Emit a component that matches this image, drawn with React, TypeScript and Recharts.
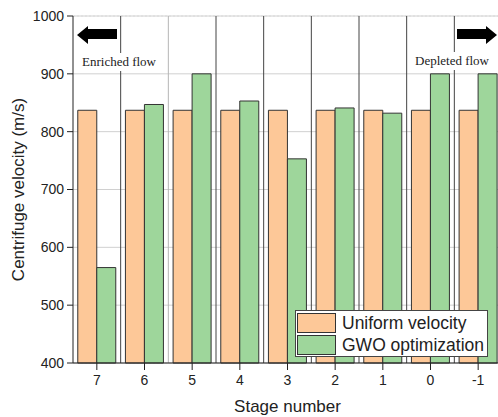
import React from "react";
import {
  BarChart,
  Bar,
  XAxis,
  YAxis,
  CartesianGrid,
  ReferenceLine,
  Label,
} from "recharts";

// stage numbers along the x axis (enriched side on the left)
const stages = ["7", "6", "5", "4", "3", "2", "1", "0", "-1"];
const uniformVelocity = [837, 837, 837, 837, 837, 837, 837, 837, 837];
const gwoVelocity = [565, 847, 900, 853, 753, 841, 832, 900, 900];
const majorTicks = [400, 500, 600, 700, 800, 900, 1000];
const minorTicks = [450, 550, 650, 750, 850, 950];

const data = stages.map((stage, i) => ({
  stage,
  uniform: uniformVelocity[i],
  gwo: gwoVelocity[i],
}));

const ORANGE = "#FDC898";
const GREEN = "#9ED69B";
const DARK = "#222";
const blank = () => "";

const Arrow = ({ left, flip }: { left: number; flip?: boolean }) => (
  <svg
    width={40}
    height={18}
    style={{ position: "absolute", left, top: 26, transform: flip ? "scaleX(-1)" : undefined }}
  >
    <polygon points="0,9 11,0 11,3 40,3 40,13 11,13 11,18" fill="#000" />
  </svg>
);

const App: React.FC = () => {
  return (
    <div
      style={{
        position: "absolute",
        left: 0,
        top: 0,
        width: 498,
        height: 417,
        overflow: "hidden",
        background: "#fff",
        fontFamily: "'Liberation Sans', Arial, sans-serif",
      }}
    >
      <BarChart
        width={510}
        height={417}
        data={data}
        margin={{ top: 16, right: 8, left: 0, bottom: 24 }}
        barCategoryGap="10%"
        barGap={0}
      >
        <CartesianGrid xAxisId="bottom" yAxisId="minor" vertical={false} stroke="#e2e2e2" strokeDasharray="2 2" />
        <CartesianGrid xAxisId="bottom" yAxisId="main" vertical={false} stroke="#d0d0d0" />
        <XAxis
          xAxisId="bottom"
          dataKey="stage"
          tickSize={7}
          tickMargin={5}
          tick={{ fontSize: 14, fill: DARK }}
          axisLine={{ stroke: DARK }}
          tickLine={{ stroke: DARK }}
        >
          <Label value="Stage number" position="bottom" offset={7} style={{ fontSize: 17, fill: DARK }} />
        </XAxis>
        <XAxis
          xAxisId="top"
          orientation="top"
          dataKey="stage"
          height={0}
          mirror
          tickSize={7}
          tickFormatter={blank}
          axisLine={{ stroke: DARK }}
          tickLine={{ stroke: DARK }}
        />
        <YAxis
          yAxisId="minor"
          width={0}
          mirror
          domain={[400, 1000]}
          ticks={minorTicks}
          tickSize={4}
          tickFormatter={blank}
          axisLine={false}
          tickLine={{ stroke: DARK }}
        />
        <YAxis
          yAxisId="main"
          width={73}
          domain={[400, 1000]}
          ticks={majorTicks}
          tickSize={6}
          tickMargin={3}
          tick={{ fontSize: 14, fill: DARK }}
          axisLine={{ stroke: DARK }}
          tickLine={{ stroke: DARK }}
        >
          <Label
            value="Centrifuge velocity (m/s)"
            angle={-90}
            position="insideLeft"
            offset={18}
            style={{ fontSize: 17, fill: DARK, textAnchor: "middle" }}
          />
        </YAxis>
        <YAxis
          yAxisId="right"
          orientation="right"
          width={0}
          mirror
          domain={[400, 1000]}
          ticks={majorTicks}
          tickSize={6}
          tickFormatter={blank}
          axisLine={{ stroke: DARK }}
          tickLine={{ stroke: DARK }}
        />
        {stages.slice(1).map((s) => (
          <ReferenceLine
            key={s}
            xAxisId="bottom"
            yAxisId="main"
            x={s}
            position="start"
            stroke={s === "5" ? "#b5b5b5" : "#444"}
          />
        ))}
        <Bar
          xAxisId="bottom"
          yAxisId="main"
          dataKey="uniform"
          name="Uniform velocity"
          fill={ORANGE}
          stroke="#333"
          strokeWidth={1}
          isAnimationActive={false}
        />
        <Bar
          xAxisId="bottom"
          yAxisId="main"
          dataKey="gwo"
          name="GWO optimization"
          fill={GREEN}
          stroke="#333"
          strokeWidth={1}
          isAnimationActive={false}
        />
      </BarChart>

      {/* flow direction notes */}
      <Arrow left={77} />
      <Arrow left={457} flip />
      <div
        style={{
          position: "absolute",
          left: 80,
          top: 53,
          padding: "0 2px",
          background: "#fff",
          fontFamily: "'Liberation Serif', 'Times New Roman', serif",
          fontSize: 13,
          color: "#222",
          lineHeight: "18px",
        }}
      >
        Enriched flow
      </div>
      <div
        style={{
          position: "absolute",
          left: 413,
          top: 52,
          padding: "0 2px",
          background: "#fff",
          fontFamily: "'Liberation Serif', 'Times New Roman', serif",
          fontSize: 13,
          color: "#222",
          lineHeight: "18px",
        }}
      >
        Depleted flow
      </div>

      {/* legend */}
      <div
        style={{
          position: "absolute",
          left: 295,
          top: 310,
          width: 191,
          height: 45,
          border: "1px solid #444",
          background: "#fff",
        }}
      >
        {[
          { label: "Uniform velocity", color: ORANGE },
          { label: "GWO optimization", color: GREEN },
        ].map((item, i) => (
          <div
            key={item.label}
            style={{ position: "absolute", left: 1, top: 2 + i * 22, height: 20, display: "flex", alignItems: "center" }}
          >
            <span
              style={{
                display: "inline-block",
                width: 37,
                height: 18,
                background: item.color,
                border: "1px solid #333",
              }}
            />
            <span style={{ marginLeft: 6, fontSize: 17.5, color: DARK, whiteSpace: "nowrap" }}>{item.label}</span>
          </div>
        ))}
      </div>
    </div>
  );
};

export default App;
